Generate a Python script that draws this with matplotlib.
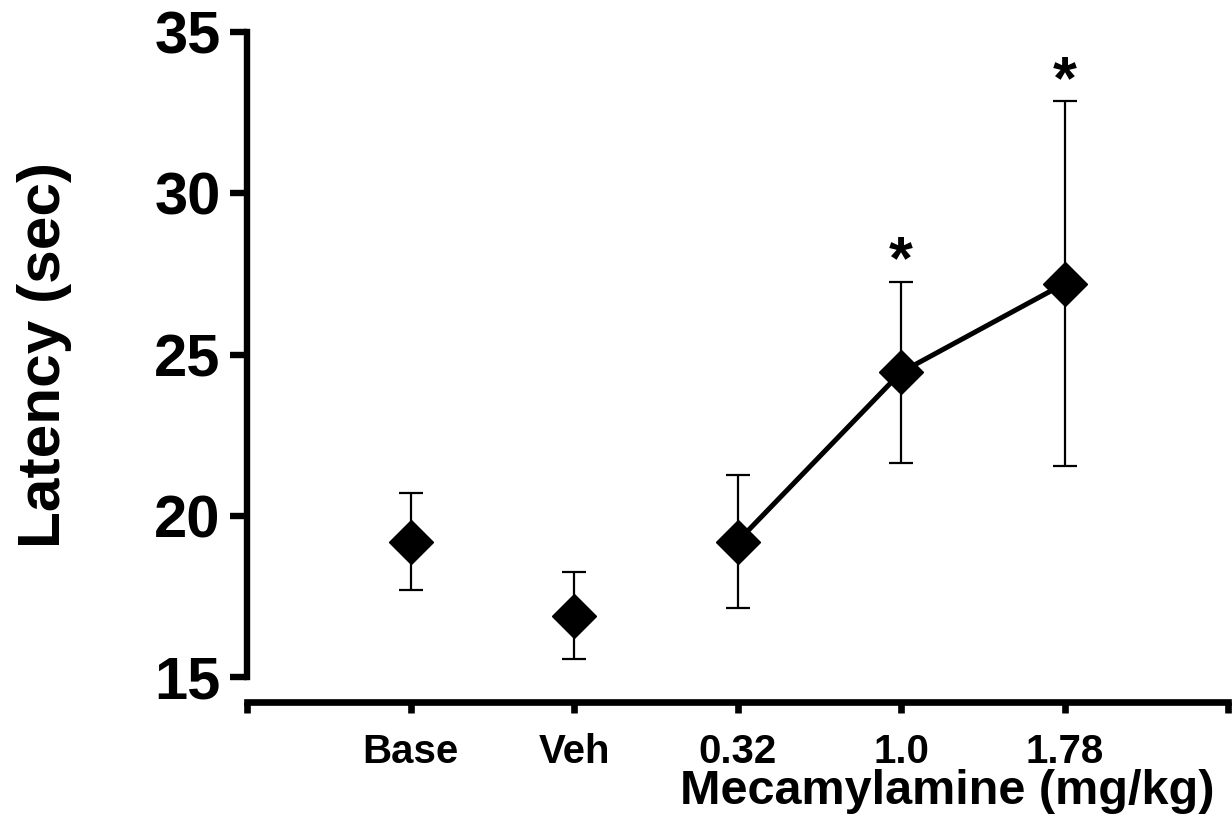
import matplotlib
matplotlib.use("Agg")
import matplotlib.pyplot as plt

plt.rcParams['font.family'] = ['Liberation Sans', 'DejaVu Sans']
plt.rcParams['font.weight'] = 'bold'

categories = ["Base", "Veh", "0.32", "1.0", "1.78"]
means = [19.2, 16.9, 19.2, 24.45, 27.2]
sem = [1.5, 1.35, 2.05, 2.8, 5.65]
connected = [2, 3, 4]          # indices of mecamylamine doses joined by a line
significant = [3, 4]           # indices marked with an asterisk
yticks = [15, 20, 25, 30, 35]

fig = plt.figure(figsize=(12.32, 8.33), dpi=100)
ax = fig.add_axes([247 / 1232, 1 - 677 / 833, 981 / 1232, 645 / 833])

xpos = [i + 1 for i in range(len(categories))]

ax.plot([xpos[i] for i in connected], [means[i] for i in connected],
        color='black', lw=3.6, zorder=2)
ax.errorbar(xpos, means, yerr=sem, fmt='none', ecolor='black',
            elinewidth=1.6, capsize=8.5, capthick=1.6, zorder=1)
ax.plot(xpos, means, linestyle='none', marker='D', markersize=22,
        markerfacecolor='black', markeredgecolor='black', zorder=3)

for i in significant:
    ax.annotate('*', xy=(xpos[i], means[i] + sem[i]), xytext=(0, -7),
                textcoords='offset points', ha='center', va='bottom',
                fontsize=44, fontweight='bold')

ax.set_xlim(0, len(categories) + 1)
ax.set_ylim(15, 35)
ax.set_yticks(yticks)
ax.set_xticks(range(0, len(categories) + 2))
ax.set_xticklabels([''] + categories + [''])

for s in ['top', 'right']:
    ax.spines[s].set_visible(False)
ax.spines['left'].set_linewidth(4.6)
ax.spines['bottom'].set_linewidth(4.8)
ax.spines['bottom'].set_position(('outward', 18))
ax.spines['left'].set_capstyle('projecting')

ax.tick_params(axis='y', direction='out', length=12, width=4.6,
               labelsize=43, pad=7)
ax.tick_params(axis='x', direction='out', length=8, width=4.8,
               labelsize=29, pad=14)
for lab in ax.get_xticklabels() + ax.get_yticklabels():
    lab.set_fontweight('bold')

ax.set_ylabel('Latency (sec)', fontsize=43.5, fontweight='bold')
ax.yaxis.set_label_coords(-0.178, 0.5)
ax.set_xlabel('Mecamylamine (mg/kg)', fontsize=35, fontweight='bold')
ax.xaxis.set_label_coords(0.714, -0.143)

fig.savefig('out.png', dpi=100)
